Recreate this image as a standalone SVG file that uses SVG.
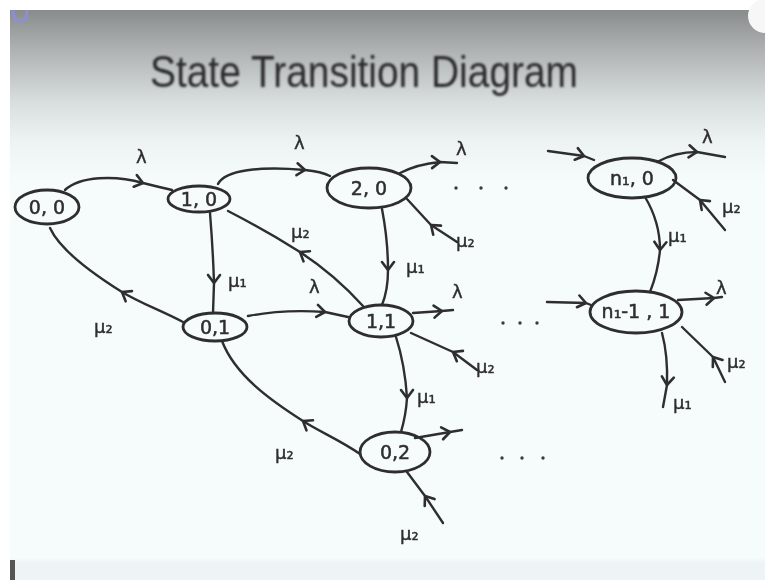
<svg xmlns="http://www.w3.org/2000/svg" width="765" height="580" viewBox="0 0 765 580">
  <defs>
    <linearGradient id="slideBg" x1="0" y1="0" x2="0" y2="1" gradientUnits="objectBoundingBox">
      <stop offset="0" stop-color="#888c8c"/>
      <stop offset="0.07" stop-color="#aeb2b2"/>
      <stop offset="0.16" stop-color="#d8dddd"/>
      <stop offset="0.23" stop-color="#edf2f3"/>
      <stop offset="0.3" stop-color="#f6fbfc"/>
      <stop offset="0.96" stop-color="#f6fbfc"/>
      <stop offset="0.97" stop-color="#eef4f5"/>
      <stop offset="1" stop-color="#eef4f5"/>
    </linearGradient>
    <filter id="soft" x="-5%" y="-5%" width="110%" height="110%">
      <feGaussianBlur stdDeviation="0.7"/>
    </filter>
    <filter id="softTitle" x="-5%" y="-20%" width="110%" height="140%">
      <feGaussianBlur stdDeviation="0.9"/>
    </filter>
    <marker id="chev" viewBox="-10 -10 20 20" refX="0" refY="0" markerWidth="20" markerHeight="20" markerUnits="userSpaceOnUse" orient="auto">
      <path d="M -8 -6 L 0 0 L -8 6" fill="none" stroke="#2e2e2e" stroke-width="2.6" stroke-linecap="round" stroke-linejoin="round"/>
    </marker>
  </defs>
  <style>
    .ink { fill: none; stroke: #2e2e2e; stroke-width: 2.4; stroke-linecap: round; stroke-linejoin: round; }
    .edge { marker-mid: url(#chev); }
    .state { fill: none; stroke: #2e2e2e; stroke-width: 2.8; }
    .nlabel { font-family: "DejaVu Sans", "Liberation Sans", sans-serif; font-size: 19px; fill: #2e2e2e; stroke: #2e2e2e; stroke-width: 0.5; text-anchor: middle; }
    .rate { font-family: "DejaVu Sans", "Liberation Sans", sans-serif; font-size: 18px; fill: #2e2e2e; stroke: #2e2e2e; stroke-width: 0.4; }
    .dot { fill: #3a3a3a; }
  </style>

  <!-- page and slide background -->
  <rect x="0" y="0" width="765" height="580" fill="#ffffff"/>
  <rect x="10" y="10" width="755" height="570" fill="url(#slideBg)"/>
  <circle cx="765" cy="16" r="17" fill="#f7f7f7"/>
  <path d="M 13 10 Q 13 21 20 21 Q 27 21 27 10" fill="none" stroke="#8c8fd0" stroke-width="3"/>
  <rect x="10" y="560" width="5" height="20" fill="#555555"/>

  <text x="364" y="87" font-family="Liberation Sans, Arial, sans-serif" font-size="45" fill="#2c2c2c" text-anchor="middle" textLength="428" lengthAdjust="spacingAndGlyphs" filter="url(#softTitle)">State Transition Diagram</text>

  <g filter="url(#soft)">
    <!-- connectors -->
    <g id="connectors">
      <path class="ink edge" d="M 65 190 C 80 176, 115 175, 143 183 C 155 186, 163 188, 172 190"/>
      <path class="ink edge" d="M 218 184 C 225 170, 260 166, 305 170 C 315 171, 322 172, 330 176"/>
      <path class="ink edge" d="M 400 173 Q 418 164 440 162 L 457 163"/>
      <path class="ink edge" d="M 457 242 L 431 225 L 407 199"/>
      <path class="ink edge" d="M 210 213 Q 213 250 214 283 L 213 313"/>
      <path class="ink edge" d="M 183 322 C 160 310, 140 303, 122 292 C 90 272, 60 250, 50 228"/>
      <path class="ink edge" d="M 363 306 Q 335 275 300 252 Q 265 230 228 211"/>
      <path class="ink edge" d="M 382 209 Q 388 240 388 270 Q 388 290 382 305"/>
      <path class="ink edge" d="M 248 316 Q 285 309 325 312 L 348 317"/>
      <path class="ink edge" d="M 413 313 L 442 311 L 453 310"/>
      <path class="ink edge" d="M 477 370 L 453 352 L 411 333"/>
      <path class="ink edge" d="M 396 337 Q 405 365 407 398 Q 406 415 401 432"/>
      <path class="ink edge" d="M 360 454 C 340 440, 320 432, 303 421 C 270 400, 235 375, 222 341"/>
      <path class="ink edge" d="M 415 438 L 450 432 L 462 430"/>
      <path class="ink edge" d="M 443 523 L 425 496 L 407 472"/>
      <path class="ink edge" d="M 548 151 L 584 156 L 594 160"/>
      <path class="ink edge" d="M 657 162 Q 675 152 697 152 L 725 157"/>
      <path class="ink edge" d="M 725 230 L 700 200 L 673 180"/>
      <path class="ink edge" d="M 645 197 Q 660 222 660 250 Q 658 272 650 292"/>
      <path class="ink edge" d="M 547 302 L 586 303 L 591 305"/>
      <path class="ink edge" d="M 678 300 L 714 298 L 722 297"/>
      <path class="ink edge" d="M 725 382 L 713 357 L 682 327"/>
      <path class="ink edge" d="M 662 333 Q 668 355 667 385 L 663 407"/>
    </g>

    <!-- states -->
    <g id="s00"><ellipse class="state" cx="47" cy="207" rx="32" ry="17"/><text class="nlabel" x="47" y="214">0, 0</text></g>
    <g id="s10"><ellipse class="state" cx="199" cy="199" rx="31" ry="13"/><text class="nlabel" x="199" y="206">1, 0</text></g>
    <g id="s20"><ellipse class="state" cx="369" cy="188" rx="42" ry="20"/><text class="nlabel" x="369" y="195">2, 0</text></g>
    <g id="s01"><ellipse class="state" cx="215" cy="327" rx="32" ry="14"/><text class="nlabel" x="215" y="334">0,1</text></g>
    <g id="s11"><ellipse class="state" cx="381" cy="321" rx="32" ry="16"/><text class="nlabel" x="381" y="328">1,1</text></g>
    <g id="s02"><ellipse class="state" cx="395" cy="452" rx="35" ry="20"/><text class="nlabel" x="395" y="459">0,2</text></g>
    <g id="sn0"><ellipse class="state" cx="632" cy="178" rx="44" ry="20"/><text class="nlabel" x="632" y="185">n₁, 0</text></g>
    <g id="sn1"><ellipse class="state" cx="636" cy="312" rx="46" ry="21"/><text class="nlabel" x="636" y="318" font-size="17">n₁-1 , 1</text></g>

    <!-- rate labels -->
    <g id="rates">
      <text class="rate" x="136" y="163">λ</text>
      <text class="rate" x="294" y="149">λ</text>
      <text class="rate" x="456" y="155">λ</text>
      <text class="rate" x="456" y="247">μ₂</text>
      <text class="rate" x="228" y="287">μ₁</text>
      <text class="rate" x="94" y="333">μ₂</text>
      <text class="rate" x="291" y="238">μ₂</text>
      <text class="rate" x="406" y="273">μ₁</text>
      <text class="rate" x="309" y="293">λ</text>
      <text class="rate" x="452" y="298">λ</text>
      <text class="rate" x="476" y="373">μ₂</text>
      <text class="rate" x="417" y="403">μ₁</text>
      <text class="rate" x="275" y="459">μ₂</text>
      <text class="rate" x="400" y="540">μ₂</text>
      <text class="rate" x="702" y="143">λ</text>
      <text class="rate" x="722" y="213">μ₂</text>
      <text class="rate" x="668" y="242">μ₁</text>
      <text class="rate" x="716" y="294">λ</text>
      <text class="rate" x="727" y="368">μ₂</text>
      <text class="rate" x="673" y="409">μ₁</text>
    </g>

    <!-- continuation dots -->
    <g id="dots">
      <circle class="dot" cx="456" cy="188" r="1.7"/>
      <circle class="dot" cx="481" cy="188" r="1.7"/>
      <circle class="dot" cx="506" cy="188" r="1.7"/>
      <circle class="dot" cx="503" cy="323" r="1.7"/>
      <circle class="dot" cx="520" cy="323" r="1.7"/>
      <circle class="dot" cx="537" cy="323" r="1.7"/>
      <circle class="dot" cx="502" cy="458" r="1.7"/>
      <circle class="dot" cx="522" cy="458" r="1.7"/>
      <circle class="dot" cx="543" cy="458" r="1.7"/>
    </g>
  </g>
</svg>
